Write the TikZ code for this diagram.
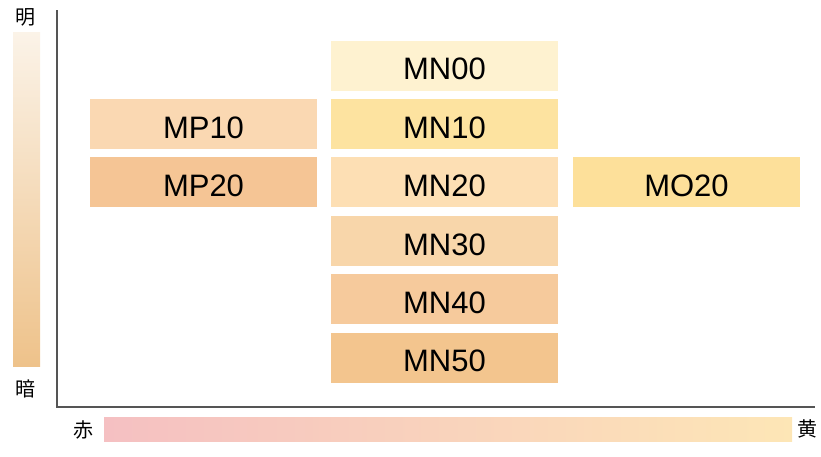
\documentclass[tikz,border=0pt]{standalone}
\usepackage{fontspec}
\setmainfont{Liberation Sans}
\newfontfamily\cjk{Noto Sans CJK JP}
\definecolor{axisgray}{HTML}{555555}
\definecolor{mpA}{HTML}{FAD8B2}
\definecolor{mpB}{HTML}{F5C595}
\definecolor{mnA}{HTML}{FEF2D0}
\definecolor{mnB}{HTML}{FDE3A0}
\definecolor{mnC}{HTML}{FDDFB4}
\definecolor{mnD}{HTML}{F8D6AA}
\definecolor{mnE}{HTML}{F6CA9C}
\definecolor{mnF}{HTML}{F3C58E}
\definecolor{moA}{HTML}{FDE09A}
\definecolor{lightend}{HTML}{FBF3E8}
\definecolor{darkend}{HTML}{EEC28A}
\definecolor{redend}{HTML}{F5C0C2}
\definecolor{yellowend}{HTML}{FDE6B6}

\begin{document}
\begin{tikzpicture}[x=1pt, y=-1pt,
	swatch/.style = {minimum width=227pt, minimum height=50pt, inner sep=0pt, text height=28pt, text depth=0pt, font=\fontsize{31}{31}\selectfont},
	axislabel/.style = {font=\cjk\fontsize{20}{20}\selectfont, inner sep=0pt}]
				\useasboundingbox (0,0) rectangle (821,456);
				% axes
				\coordinate (top) at (57,10);
				\coordinate (origin) at (57,407);
				\coordinate (right) at (815,407);
				\draw[axisgray, line width=1.4pt] (top) -- (origin) -- (right);
				% scales
				\shade[top color=lightend, bottom color=darkend] (13,32) rectangle (40,366);
				\shade[left color=redend, right color=yellowend] (104,417) rectangle (792,441);
				\node[axislabel] (light) at (26,17) {明};
				\node[axislabel] (dark) at (26,389) {暗};
				\node[axislabel] (red) at (83,430) {赤};
				\node[axislabel] (yellow) at (807,429) {黄};
				% shades
				\node[swatch, fill=mnA] (MN00) at (444.5,65.5) {MN00};
				\node[swatch, fill=mnB] (MN10) at (444.5,124) {MN10};
				\node[swatch, fill=mnC] (MN20) at (444.5,182) {MN20};
				\node[swatch, fill=mnD] (MN30) at (444.5,241) {MN30};
				\node[swatch, fill=mnE] (MN40) at (444.5,299) {MN40};
				\node[swatch, fill=mnF] (MN50) at (444.5,357.5) {MN50};
				\node[swatch, fill=mpA] (MP10) at (203.5,124) {MP10};
				\node[swatch, fill=mpB] (MP20) at (203.5,182) {MP20};
				\node[swatch, fill=moA] (MO20) at (686.5,182) {MO20};
			\end{tikzpicture}
\end{document}
